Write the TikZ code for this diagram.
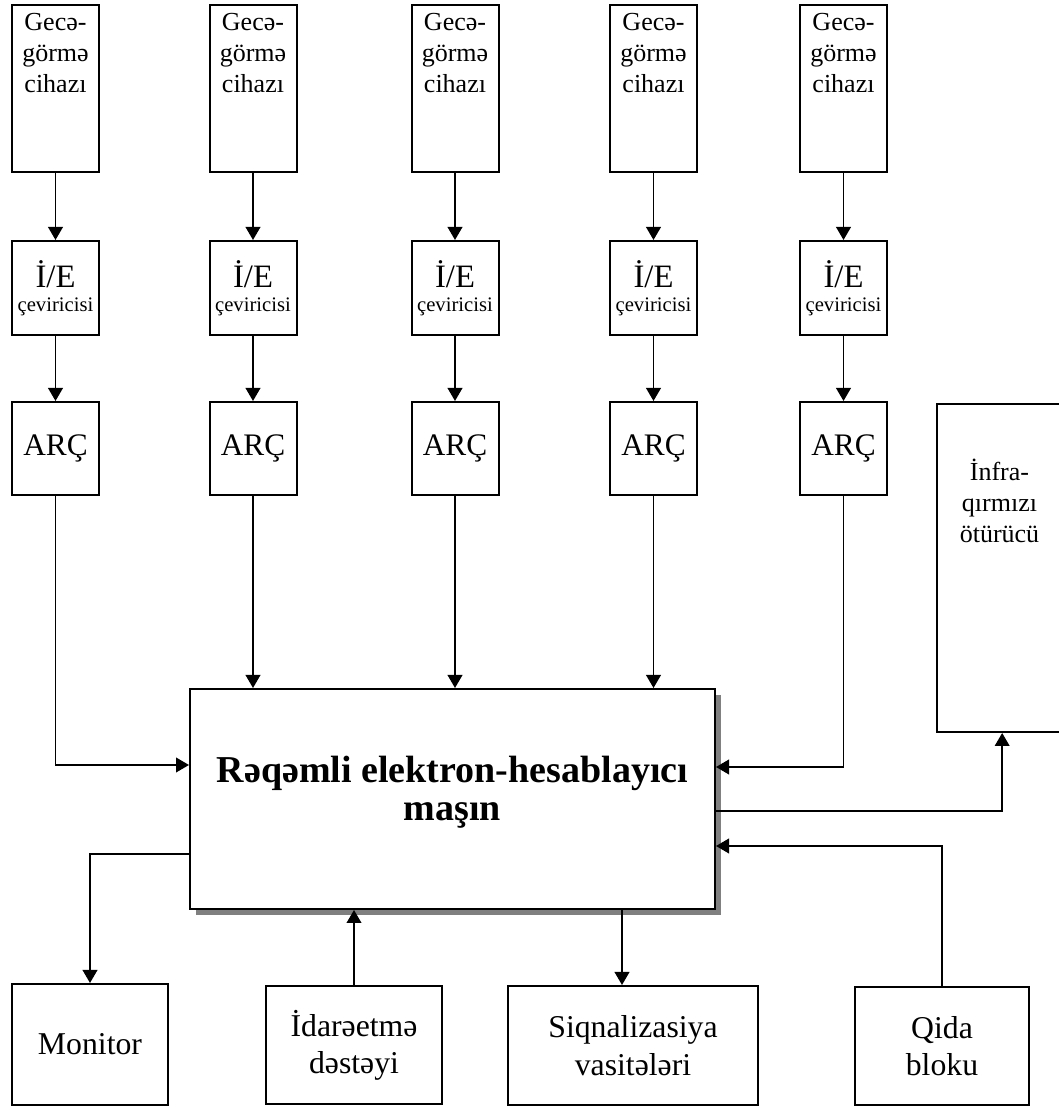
\documentclass[tikz,border=0pt]{standalone}
\usepackage{fontspec}
\setmainfont{Liberation Serif}
\usetikzlibrary{arrows.meta,positioning,shadows}

\begin{document}
\begin{tikzpicture}[x=0.75pt, y=0.75pt,
    every node/.style={inner sep=0pt, align=center},
    blok/.style={draw, line width=1.5pt, fill=white},
    arr/.style={-{Triangle[length=9.75pt,width=11pt]}, line width=1.3pt},
    gfont/.style={font=\fontsize{19.5pt}{23pt}\selectfont},
    bfont/.style={font=\fontsize{23.8pt}{28pt}\selectfont}]
  \useasboundingbox (0,0) rectangle (1058,1106);
  % giris sutunlari
  \foreach \i/\x in {1/55.5, 2/253, 3/455, 4/653.5, 5/843.5} {
    \node[blok, minimum width=65.25pt, minimum height=125.25pt] (gc\i) at (\x,1017.5) {};
    \node[gfont, anchor=north] (gt\i) at ([yshift=-7pt]gc\i.north) {Gecə-\\görmə\\cihazı};
    \node[blok, minimum width=65.25pt, minimum height=70.5pt,
      font=\fontsize{15.5pt}{18pt}\selectfont] (ie\i) at (\x,818)
      {{\fontsize{24.5pt}{18pt}\selectfont İ/E}\\çeviricisi};
    \node[blok, minimum width=65.25pt, minimum height=69.75pt,
      font=\fontsize{23.5pt}{26pt}\selectfont] (arc\i) at (\x,657.5) {ARÇ};
    \draw[arr] (gc\i) -- (ie\i);
    \draw[arr] (ie\i) -- (arc\i);
  }
  % esas blok
  \node[blok, minimum width=393.75pt, minimum height=165pt,
    drop shadow={shadow xshift=4.5pt, shadow yshift=-4.5pt, fill=black!50, opacity=1}]
    (main) at (452.5,307) {};
  \node[font=\bfseries\fontsize{28.5pt}{28.5pt}\selectfont] (mt) at ([yshift=5pt]main.center)
    {Rəqəmli elektron-hesablayıcı\\maşın};
  \node[blok, minimum width=93.75pt, minimum height=246pt] (infra) at (999.5,538) {};
  \node[gfont, anchor=north] (it) at ([yshift=-42pt]infra.north) {İnfra-\\qırmızı\\ötürücü};
  % asagi bloklar
  \node[blok, bfont, minimum width=117pt, minimum height=90.75pt] (mon) at (90,61.5) {Monitor};
  \node[blok, bfont, minimum width=132pt, minimum height=88.5pt] (ida) at (354,61) {İdarəetmə\\dəstəyi};
  \node[blok, bfont, minimum width=187.5pt, minimum height=89.25pt] (siq) at (633,60.5) {Siqnalizasiya\\vasitələri};
  \node[blok, bfont, minimum width=130.5pt, minimum height=88.5pt] (qida) at (942,60) {Qida\\bloku};
  \coordinate (sq) at ([xshift=-8.25pt]siq.north);
  % baglantilar
  \draw[arr] (arc1) |- ([yshift=25.5pt]main.west);
  \foreach \i in {2,3,4} \draw[arr] (arc\i) -- (arc\i |- main.north);
  \draw[arr] (arc5) |- ([yshift=24pt]main.east);
  \draw[arr] ([yshift=-9pt]main.east) -| ([xshift=2pt]infra.south);
  \draw[arr] (qida) |- ([yshift=-35.25pt]main.east);
  \draw[arr] ([yshift=-41.25pt]main.west) -| (mon);
  \draw[arr] (ida) -- (ida |- main.south);
  \draw[arr] (sq |- main.south) -- (sq);
\end{tikzpicture}
\end{document}
